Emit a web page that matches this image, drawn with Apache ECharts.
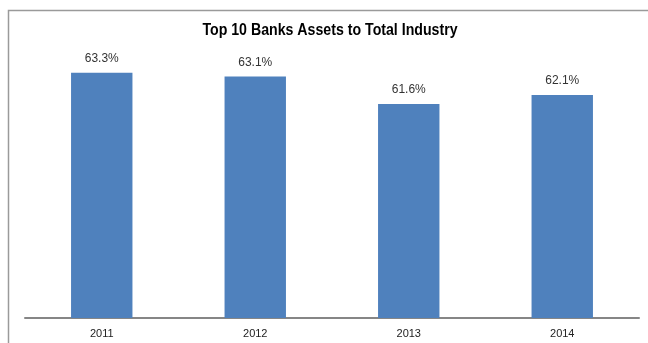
<!DOCTYPE html>
<html>
<head>
<meta charset="utf-8">
<script src="https://cdn.jsdelivr.net/npm/echarts@6/dist/echarts.min.js"></script>
<style>
  html, body { margin: 0; padding: 0; background: #fff; }
  #chart { width: 648px; height: 343px; }
</style>
</head>
<body>
<div id="chart"></div>
<script>
// Share of total industry assets held by the ten largest banks
const years = ['2011', '2012', '2013', '2014'];
const sharePct = [63.3, 63.1, 61.6, 62.1];
const chartTitle = 'Top 10 Banks Assets to Total Industry';

const chart = echarts.init(document.getElementById('chart'), null, { renderer: 'canvas' });

chart.setOption({
  backgroundColor: '#ffffff',
  animation: false,
  graphic: [
    // outer frame: top and left edges (the others run off the canvas)
    {
      type: 'polyline',
      shape: { points: [[8.5, 400], [8.5, 10.5], [700, 10.5]] },
      style: { fill: 'none', stroke: '#9a9a9a', lineWidth: 1.5 },
      silent: true
    },
    // title, set in a slightly condensed bold face
    {
      type: 'text',
      x: 330,
      y: 31,
      scaleX: 0.885,
      style: {
        text: chartTitle,
        font: 'bold 16px "Liberation Sans", Arial, sans-serif',
        fill: '#000000',
        textAlign: 'center',
        textVerticalAlign: 'middle'
      },
      silent: true
    }
  ],
  grid: { left: 25, right: 9, top: 41.4, bottom: 25 },
  xAxis: {
    type: 'category',
    data: years,
    axisLine: { lineStyle: { color: '#868686', width: 2 } },
    axisTick: { show: false },
    axisLabel: {
      color: '#222222',
      fontSize: 11,
      margin: 10,
      fontFamily: '"Liberation Sans", Arial, sans-serif'
    }
  },
  yAxis: {
    type: 'value',
    min: 50,
    max: 65,
    show: false,
    splitLine: { show: false }
  },
  series: [{
    type: 'bar',
    data: sharePct,
    barWidth: '40%',
    itemStyle: { color: '#4f81bd' },
    label: {
      show: true,
      position: 'top',
      distance: 8,
      formatter: p => p.value.toFixed(1) + '%',
      color: '#333333',
      fontSize: 12,
      fontFamily: '"Liberation Sans", Arial, sans-serif'
    }
  }]
});
</script>
</body>
</html>
